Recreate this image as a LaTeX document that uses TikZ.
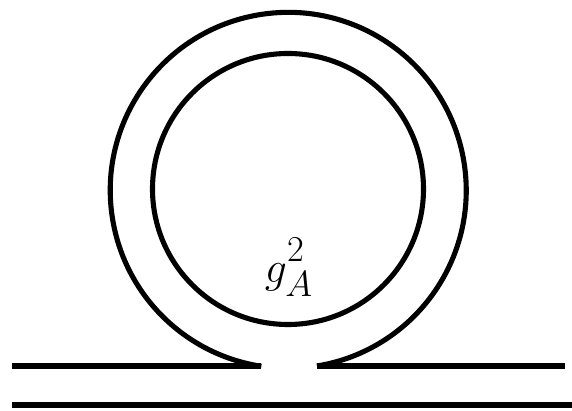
\documentclass[tikz,border=0pt]{standalone}
\begin{document}
\begin{tikzpicture}[
        x=0.02cm, y=-0.02cm,
        line width=2.9pt,
        every node/.style={
            inner sep=0pt,
            font=\fontsize{31}{37}\selectfont
        }
    ]
    \useasboundingbox (0,0) rectangle (572,411);

    % Puntos
    \coordinate (c1) at (288,189);
    \coordinate (a1) at (12,366);
    \coordinate (v1) at (261,366);
    \coordinate (v2) at (317,366);
    \coordinate (a2) at (565,366);
    \coordinate (b1) at (12,405);
    \coordinate (b2) at (572,405);

    % Etiqueta
    \node (g) at (289,267) {$g^{\raisebox{3pt}{$\scriptstyle 2$}}_{\raisebox{-1.5pt}{$\scriptstyle A$}}$};

    % Lineas
    \draw (a1) -- (v1);
    \draw (v2) -- (a2);
    \draw (b1) -- (b2);
    \draw (v2) arc[start angle=80.7, end angle=-261.3, radius=178];
    \draw (c1) circle[radius=135.5];

\end{tikzpicture}
\end{document}
